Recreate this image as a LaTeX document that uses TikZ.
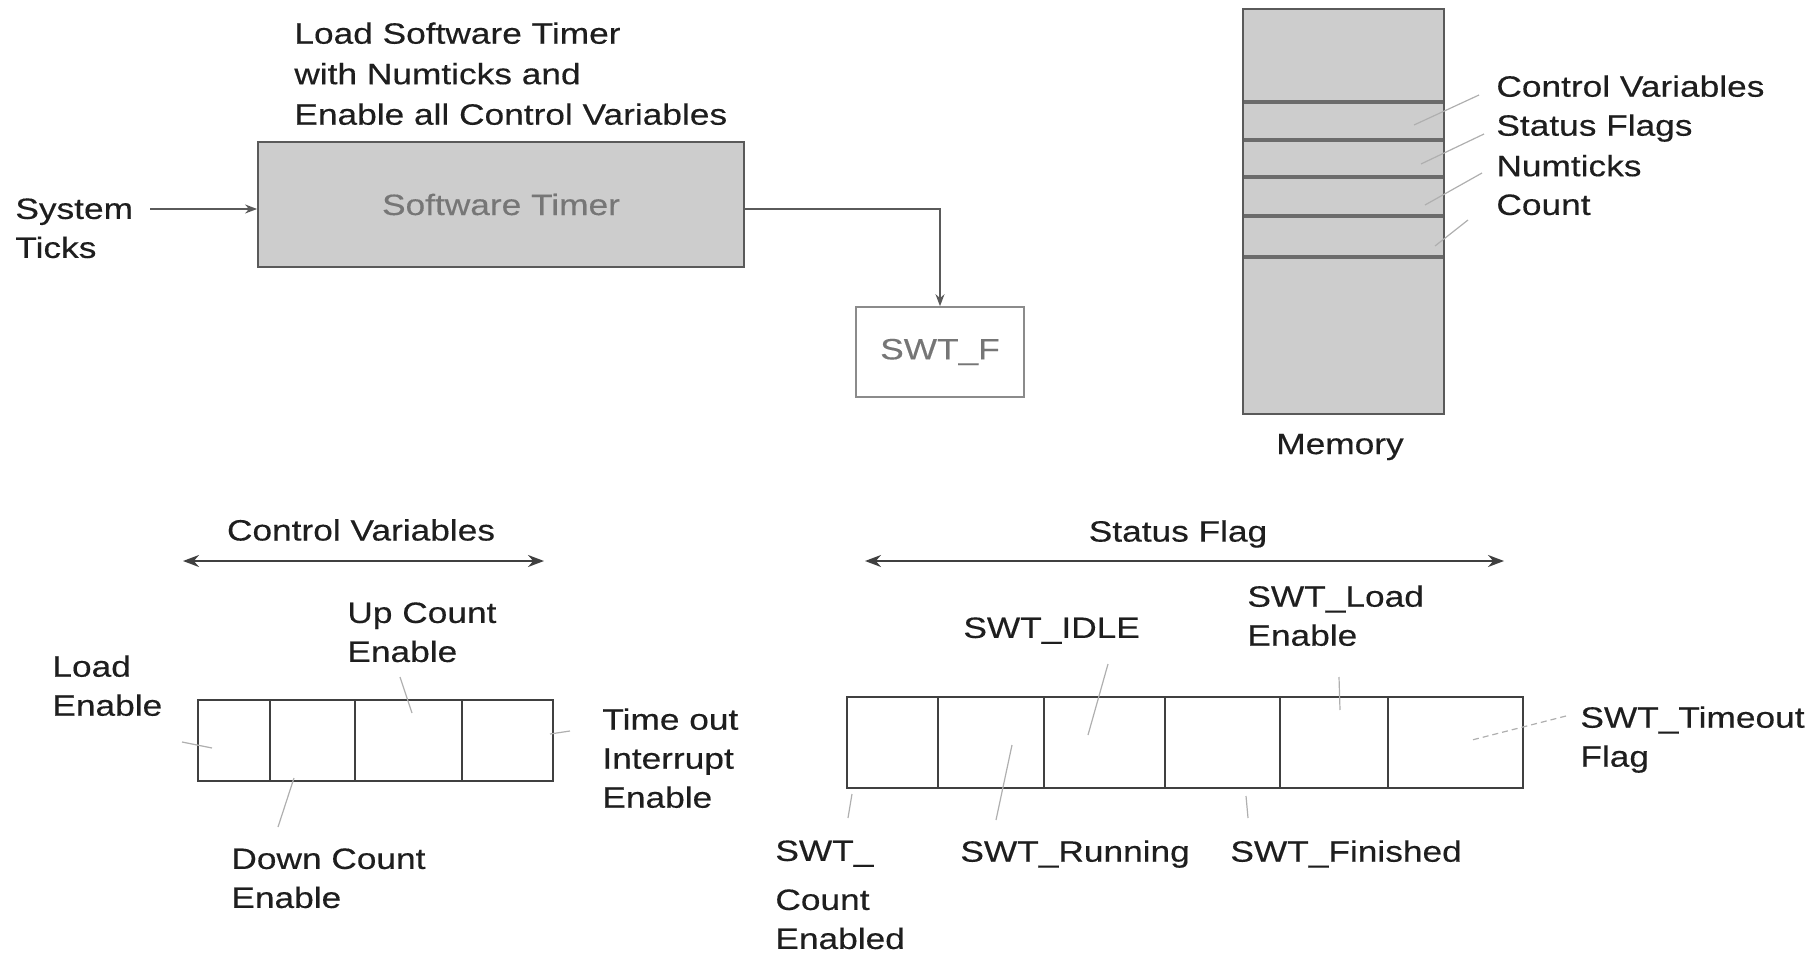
\documentclass[tikz,border=0pt]{standalone}
\usepackage{fontspec}
\setmainfont{Liberation Sans}[FakeStretch=1.2,FakeBold=0.35]
\usetikzlibrary{arrows.meta}
\definecolor{ink}{RGB}{30,30,30}
\definecolor{panel}{RGB}{205,205,205}
\definecolor{edge}{RGB}{90,90,90}
\definecolor{soft}{RGB}{175,175,175}
\definecolor{dimtext}{RGB}{118,118,118}
\begin{document}
\begin{tikzpicture}[x=0.5pt,y=-0.5pt,
  txt/.style={font=\fontsize{14.7}{19.5}\selectfont, text=ink, inner sep=0pt},
  lbl/.style={txt, anchor=north west, align=left},
  ctr/.style={txt, anchor=center},
  greybox/.style={draw=edge, line width=0.9pt, fill=panel, inner sep=0pt},
  flagbox/.style={draw=edge!70, line width=0.8pt, inner sep=0pt},
  cell/.style={draw=ink!85, line width=0.9pt, inner sep=0pt, minimum height=40.5pt},
  scell/.style={draw=ink!85, line width=0.9pt, inner sep=0pt, minimum height=45.5pt},
  feed/.style={draw=edge, line width=0.8pt, -{Stealth[length=6pt,width=4.5pt]}},
  span/.style={draw=ink!85, line width=1pt, {Stealth[length=8pt,width=6pt]}-{Stealth[length=8pt,width=6pt]}},
  leader/.style={draw=soft, line width=0.6pt},
  slot/.style={draw=edge!90, line width=1.6pt},
]
\useasboundingbox (0,0) rectangle (1814,957);

% ---------- software timer ----------
\node[lbl, font=\fontsize{14.7}{20.25}\selectfont] (load) at (294,22)
  {Load Software Timer\\with Numticks and\\Enable all Control Variables};
\node[greybox, minimum width=243pt, minimum height=62.5pt, text=dimtext,
      font=\fontsize{14.7}{19.5}\selectfont] (st) at (501,204.5) {Software Timer};
\node[lbl] (stk) at (15,198) {System\\Ticks};
\coordinate (tickin) at (150,209);
\draw[feed] (tickin) -- (st.west |- tickin);
\node[flagbox, minimum width=84pt, minimum height=45pt, text=dimtext,
      font=\fontsize{14.7}{19.5}\selectfont] (swtf) at (940,352) {SWT\_F};
\draw[feed] (st.east |- tickin) -| (swtf.north);

% ---------- memory ----------
\node[greybox, minimum width=100.5pt, minimum height=202.5pt] (mem) at (1343.5,211.5) {};
\foreach \y in {102,140,177,216,257} \draw[slot] (1244,\y) -- (1443,\y);
\node[ctr] (memlbl) at (1340,447) {Memory};
\node[lbl] (mcv) at (1496,75) {Control Variables};
\node[lbl] (msf) at (1496,114) {Status Flags};
\node[lbl] (mnt) at (1496,154.5) {Numticks};
\node[lbl] (mct) at (1496,194) {Count};
\coordinate (mcvA) at (1414,125); \coordinate (mcvB) at (1479,95);
\coordinate (msfA) at (1421,164); \coordinate (msfB) at (1484,134);
\coordinate (mntA) at (1425,205); \coordinate (mntB) at (1482,173);
\coordinate (mctA) at (1435,246); \coordinate (mctB) at (1468,220);
\draw[leader] (mcvA) -- (mcvB);
\draw[leader] (msfA) -- (msfB);
\draw[leader] (mntA) -- (mntB);
\draw[leader] (mctA) -- (mctB);

% ---------- control variables register ----------
\node[ctr] (cvt) at (361,530) {Control Variables};
\coordinate (cvl) at (183,561); \coordinate (cvr) at (544,561);
\draw[span] (cvl) -- (cvr);
\node[cell, minimum width=36pt]   (c1) at (234,740.5) {};
\node[cell, minimum width=42.5pt] (c2) at (312.5,740.5) {};
\node[cell, minimum width=53.5pt] (c3) at (408.5,740.5) {};
\node[cell, minimum width=45.5pt] (c4) at (507.5,740.5) {};
\node[lbl] (upc) at (347,602) {Up Count\\Enable};
\node[lbl] (lde) at (52,655) {Load\\Enable};
\node[lbl] (toi) at (602,708) {Time out\\Interrupt\\Enable};
\node[lbl] (dnc) at (231,848) {Down Count\\Enable};
\coordinate (upcA) at (400,677); \coordinate (upcB) at (412,713);
\coordinate (ldeA) at (182,742); \coordinate (ldeB) at (212,748);
\coordinate (toiA) at (550,734); \coordinate (toiB) at (570,731);
\coordinate (dncA) at (278,827); \coordinate (dncB) at (294,778);
\draw[leader] (upcA) -- (upcB);
\draw[leader] (ldeA) -- (ldeB);
\draw[leader] (toiA) -- (toiB);
\draw[leader] (dncA) -- (dncB);

% ---------- status flag register ----------
\node[ctr] (sft) at (1178,534) {Status Flag};
\coordinate (sfl) at (865,561); \coordinate (sfr) at (1504,561);
\draw[span] (sfl) -- (sfr);
\node[scell, minimum width=45.5pt] (s1) at (892.5,742.5) {};
\node[scell, minimum width=53pt]   (s2) at (991,742.5) {};
\node[scell, minimum width=60.5pt] (s3) at (1104.5,742.5) {};
\node[scell, minimum width=57.5pt] (s4) at (1222.5,742.5) {};
\node[scell, minimum width=54pt]   (s5) at (1334,742.5) {};
\node[scell, minimum width=67.5pt] (s6) at (1455.5,742.5) {};
\node[lbl] (idle) at (963,617) {SWT\_IDLE};
\node[lbl] (lden) at (1247,585) {SWT\_Load\\Enable};
\node[lbl] (tmo) at (1580,706) {SWT\_Timeout\\Flag};
\node[lbl] (cnt) at (775,840) {SWT\_\\[5pt]Count\\Enabled};
\node[lbl] (run) at (960,840) {SWT\_Running};
\node[lbl] (fin) at (1230,840) {SWT\_Finished};
\coordinate (idleA) at (1108,664); \coordinate (idleB) at (1088,735);
\coordinate (ldenA) at (1339,677); \coordinate (ldenB) at (1340,710);
\coordinate (tmoA) at (1566,716); \coordinate (tmoB) at (1472,740);
\coordinate (runA) at (1012,745); \coordinate (runB) at (996,820);
\coordinate (finA) at (1246,796); \coordinate (finB) at (1248,818);
\coordinate (cntA) at (852,794); \coordinate (cntB) at (848,818);
\draw[leader] (idleA) -- (idleB);
\draw[leader] (ldenA) -- (ldenB);
\draw[leader, densely dashed] (tmoA) -- (tmoB);
\draw[leader] (runA) -- (runB);
\draw[leader] (finA) -- (finB);
\draw[leader] (cntA) -- (cntB);
\end{tikzpicture}
\end{document}
